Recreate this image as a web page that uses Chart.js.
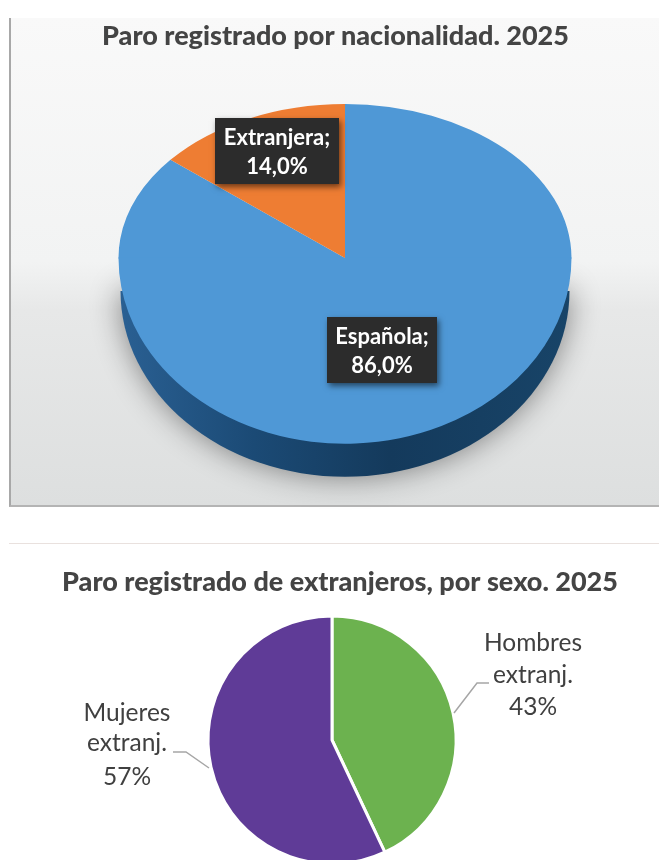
<!DOCTYPE html>
<html>
<head>
<meta charset="utf-8">
<title>Paro registrado</title>
<script src="https://cdn.jsdelivr.net/npm/chart.js@4"></script>
<style>
  html, body { margin: 0; padding: 0; background: #fff; overflow: hidden; width: 659px; height: 860px; }
  #panel {
    position: absolute; left: 9px; top: 18px; width: 650px; height: 489px; box-sizing: border-box;
    border-left: 2px solid #a8a8a8; border-bottom: 2px solid #b4b4b4;
    background: linear-gradient(#f9f9f9 0%, #f2f3f3 50%, #e7e8e8 60%, #dddfdf 100%);
  }
  #rule { position: absolute; left: 9px; top: 543px; width: 650px; height: 1px; background: #e9e1de; }
  #chartTop { position: absolute; left: 0; top: 0; }
  #chartBottom { position: absolute; left: 0; top: 545px; }
</style>
</head>
<body>
<div id="panel"></div>
<div id="rule"></div>
<canvas id="chartTop" width="659" height="516"></canvas>
<canvas id="chartBottom" width="659" height="360"></canvas>
<script>
const nationalityLabels = ["Española", "Extranjera"];
const nationalityValues = [86.0, 14.0];
const nationalityColors = ["#4f98d6", "#ee7d33"];

const sexLabels = ["Hombres extranj.", "Mujeres extranj."];
const sexValues = [43, 57];
const sexColors = ["#6cb24f", "#5f3b97"];

const TITLE_FONT = "Lato";
const LABEL_FONT = "Lato";

// the 3D pie: the top face is squashed more above the apex than below it
const SQUASH_UP = 0.68;
const SQUASH_DOWN = 0.82;
const DEPTH = 33;

const pie3d = {
  id: "pie3d",
  beforeDatasetsDraw(chart) {
    const ctx = chart.ctx;
    const arc = chart.getDatasetMeta(0).data[0];
    const r = arc.outerRadius;

    // side wall, with the soft shadow round it
    const side = ctx.createLinearGradient(arc.x - r, 0, arc.x + r, 0);
    side.addColorStop(0, "#2a6093");
    side.addColorStop(0.3, "#1b4a75");
    side.addColorStop(0.6, "#143a5c");
    side.addColorStop(1, "#184468");
    ctx.save();
    ctx.shadowColor = "rgba(0,0,0,0.45)";
    ctx.shadowBlur = 30;
    ctx.fillStyle = side;
    ctx.beginPath();
    ctx.ellipse(arc.x, arc.y + DEPTH, r - 2, r * SQUASH_DOWN, 0, 0, Math.PI);
    ctx.closePath();
    ctx.fill();
    ctx.restore();

    // upper half of the top face, the library draws it next
    ctx.save();
    ctx.beginPath();
    ctx.rect(0, 0, ctx.canvas.width, arc.y + 0.5);
    ctx.clip();
    ctx.translate(arc.x, arc.y);
    ctx.scale(1, SQUASH_UP);
    ctx.translate(-arc.x, -arc.y);
  },
  afterDatasetsDraw(chart) {
    const ctx = chart.ctx;
    const meta = chart.getDatasetMeta(0);
    const arc = meta.data[0];
    ctx.restore();

    // lower half
    ctx.save();
    ctx.beginPath();
    ctx.rect(0, arc.y - 0.5, ctx.canvas.width, ctx.canvas.height);
    ctx.clip();
    ctx.translate(arc.x, arc.y);
    ctx.scale(1, SQUASH_DOWN);
    ctx.translate(-arc.x, -arc.y);
    meta.controller.draw();
    ctx.restore();
  }
};

// the title is not centred on the pie in the reference
function titleShift(dx) {
  return {
    id: "titleShift",
    afterLayout(chart) {
      chart.titleBlock.left += dx;
      chart.titleBlock.right += dx;
    }
  };
}

function drawBoxLabel(ctx, lines, x, top, w, h) {
  ctx.save();
  ctx.shadowColor = "rgba(0,0,0,0.55)";
  ctx.shadowBlur = 6;
  ctx.shadowOffsetX = 2;
  ctx.shadowOffsetY = 3;
  ctx.fillStyle = "#2c2c2c";
  ctx.fillRect(x - w / 2, top, w, h);
  ctx.restore();
  ctx.fillStyle = "#fff";
  ctx.font = "bold 22px " + LABEL_FONT;
  ctx.textAlign = "center";
  ctx.textBaseline = "middle";
  ctx.fillText(lines[0], x, top + h / 2 - 13);
  ctx.fillText(lines[1], x, top + h / 2 + 16);
}

const boxLabels = {
  id: "boxLabels",
  afterDraw(chart) {
    const ctx = chart.ctx;
    const text = i => [nationalityLabels[i] + ";", nationalityValues[i].toFixed(1).replace(".", ",") + "%"];
    drawBoxLabel(ctx, text(0), 382, 317, 110, 66);
    drawBoxLabel(ctx, text(1), 277, 118, 124, 66);
  }
};

function drawLeader(ctx, points) {
  ctx.strokeStyle = "#a6a6a6";
  ctx.lineWidth = 1.5;
  ctx.beginPath();
  points.forEach((p, i) => i ? ctx.lineTo(p[0], p[1]) : ctx.moveTo(p[0], p[1]));
  ctx.stroke();
}

function drawOutLabel(ctx, i, x, ys) {
  const parts = sexLabels[i].split(" ");
  ctx.fillStyle = "#404040";
  ctx.font = "24.5px " + LABEL_FONT;
  ctx.textAlign = "center";
  ctx.textBaseline = "middle";
  ctx.fillText(parts[0], x, ys[0]);
  ctx.fillText(parts[1], x, ys[1]);
  ctx.fillText(sexValues[i] + "%", x, ys[2]);
}

const outLabels = {
  id: "outLabels",
  afterDraw(chart) {
    const ctx = chart.ctx;
    drawLeader(ctx, [[489, 138], [477, 138], [454, 168]]);
    drawLeader(ctx, [[173, 207], [186, 207], [209, 223]]);
    drawOutLabel(ctx, 0, 533, [98, 130, 162]);
    drawOutLabel(ctx, 1, 127, [168, 198, 232]);
  }
};

new Chart(document.getElementById("chartTop"), {
  type: "pie",
  data: {
    labels: nationalityLabels,
    datasets: [{
      data: nationalityValues,
      backgroundColor: nationalityColors,
      borderWidth: 0,
      clip: false
    }]
  },
  options: {
    responsive: false,
    animation: false,
    radius: 226.5,
    layout: { padding: { left: 31, bottom: 52.4 } },
    plugins: {
      legend: { display: false },
      tooltip: { enabled: false },
      title: {
        display: true,
        text: "Paro registrado por nacionalidad. 2025",
        color: "#444444",
        font: { family: TITLE_FONT, size: 27, weight: "900" },
        padding: { top: 20, bottom: 0 }
      }
    }
  },
  plugins: [titleShift(-9.5), pie3d, boxLabels]
});

new Chart(document.getElementById("chartBottom"), {
  type: "pie",
  data: {
    labels: sexLabels,
    datasets: [{
      data: sexValues,
      backgroundColor: sexColors,
      borderColor: "#fff",
      borderWidth: 3,
      clip: false
    }]
  },
  options: {
    responsive: false,
    animation: false,
    radius: 124,
    layout: { padding: { left: 5, bottom: 23.4 } },
    plugins: {
      legend: { display: false },
      tooltip: { enabled: false },
      title: {
        display: true,
        text: "Paro registrado de extranjeros, por sexo. 2025",
        color: "#444444",
        font: { family: TITLE_FONT, size: 27, weight: "900" },
        padding: { top: 21, bottom: 0 }
      }
    }
  },
  plugins: [titleShift(8), outLabels]
});
</script>
</body>
</html>
